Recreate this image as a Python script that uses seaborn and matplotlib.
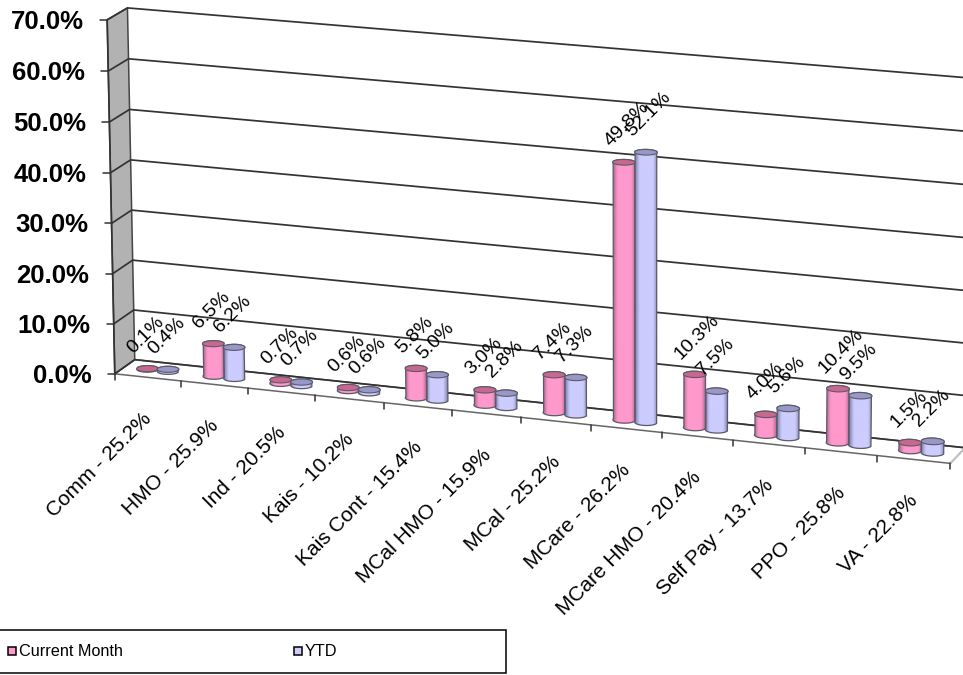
import numpy as np
import matplotlib
matplotlib.use("Agg")
import matplotlib.pyplot as plt
from matplotlib.patches import Polygon, Rectangle
import seaborn as sns

# ---- chart data -------------------------------------------------------
categories = ["Comm - 25.2%", "HMO - 25.9%", "Ind - 20.5%", "Kais - 10.2%",
              "Kais Cont - 15.4%", "MCal HMO - 15.9%", "MCal - 25.2%",
              "MCare - 26.2%", "MCare HMO - 20.4%", "Self Pay - 13.7%",
              "PPO - 25.8%", "VA - 22.8%"]
current_month = [0.1, 6.5, 0.7, 0.6, 5.8, 3.0, 7.4, 49.8, 10.3, 4.0, 10.4, 1.5]
ytd = [0.4, 6.2, 0.7, 0.6, 5.0, 2.8, 7.3, 52.1, 7.5, 5.6, 9.5, 2.2]
series_names = ["Current Month", "YTD"]
value_ticks = [0, 10, 20, 30, 40, 50, 60, 70]

sns.set_theme(style="white")
plt.rcParams["font.family"] = ["Liberation Sans", "DejaVu Sans"]
series_colors = sns.color_palette(["#FF99CC", "#CCCCFF"])
cap_colors = sns.color_palette(["#C9688F", "#9898C6"])
edge_colors = sns.color_palette(["#B06A92", "#8484B0"])

W, H = 963, 675
fig = plt.figure(figsize=(W / 100, H / 100), dpi=100, facecolor="white")
ax = fig.add_axes([0, 0, 1, 1])
ax.set_axis_off()

# ---- perspective camera: (category, value, depth) -> canvas pixels ----
box_world = np.array([
    [0, 0, 0], [12, 0, 0], [0, 0, 1], [12, 0, 1],
    [0, 70, 1], [12, 70, 1], [0, 70, 0], [12, 70, 0],
    [4, 0, 0], [7, 0, 0], [0, 30, 1], [12, 30, 1]], float)
box_canvas = np.array([
    [115, 374], [950.7, 462.7], [134.3, 359.3], [965, 449],
    [127.7, 7.3], [970, 77.5], [106.7, 20], [955, 92],
    [383, 402.4], [591.7, 424.6], [132.3, 211], [967, 290]], float)


def fit_camera(world, canvas):
    s = np.array([12.0, 70.0, 1.0])
    rows = []
    for (a, b, c), (u, v) in zip(world / s, canvas / 1000.0):
        rows.append([a, b, c, 1, 0, 0, 0, 0, -u * a, -u * b, -u * c, -u])
        rows.append([0, 0, 0, 0, a, b, c, 1, -v * a, -v * b, -v * c, -v])
    m = np.linalg.svd(np.array(rows))[2][-1].reshape(3, 4)
    return m, s


CAM, SCALE = fit_camera(box_world, box_canvas)


def project(t, v, z):
    t, v, z = np.broadcast_arrays(np.asarray(t, float), np.asarray(v, float), np.asarray(z, float))
    q = np.stack([t / SCALE[0], v / SCALE[1], z / SCALE[2], np.ones_like(t, dtype=float)])
    p = CAM @ q.reshape(4, -1)
    return np.column_stack([p[0] / p[2], p[1] / p[2]]) * 1000.0


def face(points, **kw):
    ax.add_patch(Polygon(project(*np.array(points, float).T), closed=True, **kw))


GRID = "#333333"
# Floor and side wall
face([[0, 0, 0], [12, 0, 0], [12, 0, 1], [0, 0, 1]], facecolor="white",
     edgecolor="#666666", lw=1.1, zorder=1)
face([[0, 0, 0], [0, 0, 1], [0, 70, 1], [0, 70, 0]], facecolor="#B2B2B2",
     edgecolor="#444444", lw=1.1, zorder=1)
right_edge = project([12, 12], [0, 0], [0, 1])
ax.plot(right_edge[:, 0], right_edge[:, 1], color="#C4C4C4", lw=1.4, zorder=1.5)

# Gridlines run across the side wall and the back wall
for v in value_ticks:
    pts = project([0, 0, 12], [v, v, v], [0, 1, 1])
    ax.plot(pts[:, 0], pts[:, 1], color=GRID, lw=1.25, zorder=2)
    tick = project([0], [v], [0])[0]
    ax.plot([tick[0] - 7, tick[0]], [tick[1], tick[1]], color=GRID, lw=1.1, zorder=2)
    ax.text(tick[0] - 23.5, tick[1] + 2, f"{v:.1f}%", ha="right", va="center",
            fontsize=18.5, fontweight="bold", color="black", zorder=6)

axis_line = project([0, 0], [0, 70], [0, 0])
ax.plot(axis_line[:, 0], axis_line[:, 1], color=GRID, lw=1.2, zorder=2)

# Category ticks along the front edge of the floor
for i in range(13):
    p = project([i], [0], [0])[0]
    ax.plot([p[0], p[0]], [p[1], p[1] + 6], color=GRID, lw=1.1, zorder=2)

# ---- cylinders --------------------------------------------------------
R_T, R_Z = 0.152, 0.2
OFFSET = 0.155
theta_full = np.linspace(0, 2 * np.pi, 73)
theta_front = np.linspace(np.pi, 2 * np.pi, 37)
theta_back = np.linspace(0, np.pi, 37)


def ring(tc, v, theta):
    return project(tc + R_T * np.cos(theta), np.full_like(theta, v),
                   0.5 + R_Z * np.sin(theta))


def cylinder(tc, value, idx, zorder):
    base = series_colors[idx]
    edge = edge_colors[idx]
    shade = sns.blend_palette([edge, base, base, base, base, edge], 32)
    bottom_front = ring(tc, 0, theta_front)
    top_back = ring(tc, value, theta_back)
    body_pts = np.vstack([bottom_front, top_back])
    body = Polygon(body_pts, closed=True, facecolor="none", edgecolor="none", zorder=zorder)
    ax.add_patch(body)
    x0, x1 = body_pts[:, 0].min(), body_pts[:, 0].max()
    y0, y1 = body_pts[:, 1].min(), body_pts[:, 1].max()
    img = ax.imshow(np.array(shade)[None, :, :], extent=[x0, x1, y1, y0],
                    aspect="auto", interpolation="bilinear", zorder=zorder)
    img.set_clip_path(body)
    ax.add_patch(Polygon(body_pts, closed=True, facecolor="none",
                         edgecolor="#5A5A6A", lw=0.9, zorder=zorder + 0.1))
    ax.add_patch(Polygon(ring(tc, value, theta_full), closed=True,
                         facecolor=cap_colors[idx], edgecolor="#5A5A6A", lw=0.8,
                         zorder=zorder + 0.2))


for i, (a, b) in enumerate(zip(current_month, ytd)):
    for s, val in enumerate((a, b)):
        tc = i + 0.5 + (s * 2 - 1) * OFFSET
        cylinder(tc, val, s, 3 + s * 0.5)
        top = project([tc], [val], [0.5])[0]
        ax.text(top[0] - 17, top[1] - 18, f"{val:.1f}%", rotation=45,
                rotation_mode="anchor", ha="left", va="center",
                fontsize=14, color="black", zorder=7)

# Category labels, slanted and ending below each tick span
for i, label in enumerate(categories):
    p = project([i + 0.5], [0], [0])[0]
    ax.text(p[0] + 1, p[1] + 38, label, rotation=45, rotation_mode="anchor",
            ha="right", va="center", fontsize=15, color="black", zorder=7)

# ---- legend box along the bottom edge ---------------------------------
ax.add_patch(Rectangle((-3, 630), 508.5, 42.5, facecolor="white",
                       edgecolor="black", lw=1.1, zorder=6))
for name, col, x in zip(series_names, series_colors, (8, 294)):
    ax.add_patch(Rectangle((x, 647), 7.5, 8, facecolor=col, edgecolor="black",
                           lw=1.1, zorder=7))
    ax.text(x + 11, 651, name, ha="left", va="center", fontsize=11.7,
            color="black", zorder=7)

ax.set_xlim(0, W)
ax.set_ylim(H, 0)
fig.savefig("out.png", dpi=100, facecolor="white")
